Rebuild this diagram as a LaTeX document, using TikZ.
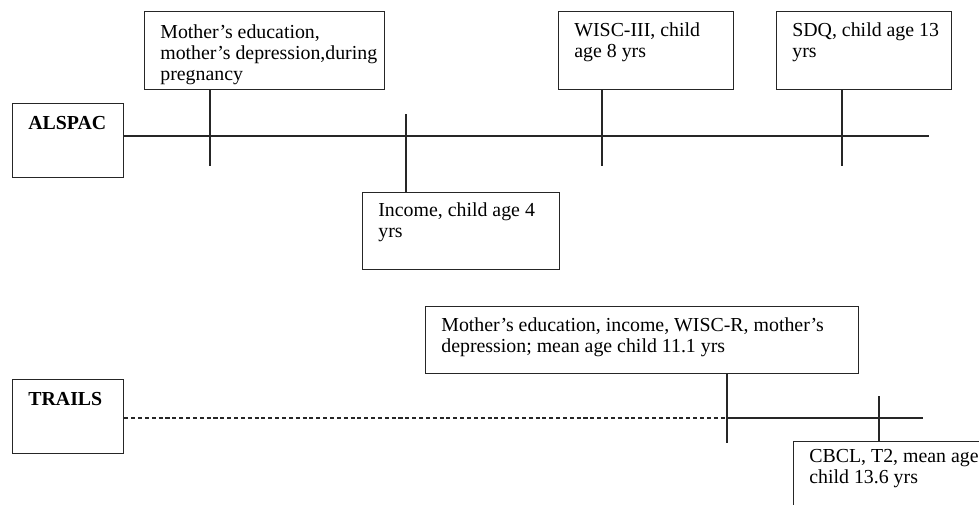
\documentclass[tikz,border=0pt]{standalone}
\usepackage{fontspec}
\setmainfont{Liberation Serif}
\usepackage{tikz}
\usetikzlibrary{positioning}
\tikzstyle{cohort} = [rectangle, draw=black!85, line width=0.8pt, minimum width=2.22cm, minimum height=1.48cm, inner sep=0pt, anchor=north west]
\tikzstyle{tick} = [draw=black!85, line width=0.6pt]

\begin{document}
\begin{tikzpicture}[
    x=0.02cm, y=-0.02cm,
    font=\fontsize{11.3}{12}\selectfont,
    infobox/.style={rectangle, draw=black!85, line width=0.8pt, inner sep=0pt, anchor=north west},
    infotext/.style={inner sep=0pt, align=left, below right=0.26cm and 0.32cm of #1},
    timeline/.style={draw=black!85, line width=0.6pt},
    gap/.style={timeline, dash pattern=on 2.3pt off 1.6pt}
]
\useasboundingbox (0,0) rectangle (979,504);
\clip (0,0) rectangle (979,504);

% Cohorts
\node[cohort] (alspac) at (12,103) {};
\node[infotext=alspac.north west, font=\fontsize{11.3}{12}\bfseries] (alspactext) {ALSPAC};
\node[cohort] (trails) at (12,379) {};
\node[infotext=trails.north west, font=\fontsize{11.3}{12}\bfseries] (trailstext) {TRAILS};

% ALSPAC measures
\node[infobox, minimum width=4.8cm, minimum height=1.56cm] (mom) at (144,11) {};
\node[infotext=mom.north west] (momtext) {Mother's education,\\mother's depression,during\\pregnancy};

\node[infobox, minimum width=3.94cm, minimum height=1.54cm] (income) at (362,192) {};
\node[infotext=income.north west, yshift=0.05cm] (incometext) {Income, child age 4\\yrs};

\node[infobox, minimum width=3.5cm, minimum height=1.56cm] (wisc) at (558,11) {};
\node[infotext=wisc.north west, yshift=0.03cm] (wisctext) {WISC-III, child\\age 8 yrs};

\node[infobox, minimum width=3.5cm, minimum height=1.56cm] (sdq) at (776,11) {};
\node[infotext=sdq.north west, yshift=0.03cm] (sdqtext) {SDQ, child age 13\\yrs};

% TRAILS measures
\node[infobox, minimum width=8.66cm, minimum height=1.34cm] (wave1) at (425,306) {};
\node[infotext=wave1.north west, yshift=0.03cm] (wave1text) {Mother's education, income, WISC-R, mother's\\depression; mean age child 11.1 yrs};

\node[infobox, minimum width=4cm, minimum height=1.56cm] (cbcl) at (793,441) {};
\node[infotext=cbcl.north west, yshift=0.1cm] (cbcltext) {CBCL, T2, mean age\\child 13.6 yrs};

% Timelines
\coordinate (aend) at (929,136);
\draw[timeline] (alspac.east |- aend) -- (aend);
\coordinate (tstart) at (726,418);
\coordinate (tend) at (923,418);
\draw[gap] (trails.east |- tstart) -- (tstart);
\draw[timeline] (tstart) -- (tend);

% Ticks
\coordinate (t1) at (210,166);
\coordinate (t2) at (406,114);
\coordinate (t3) at (602,166);
\coordinate (t4) at (842,166);
\coordinate (t5) at (727,443);
\coordinate (t6) at (879,396);
\draw[tick] (t1 |- mom.south) -- (t1);
\draw[tick] (t2) -- (t2 |- income.north);
\draw[tick] (t3 |- wisc.south) -- (t3);
\draw[tick] (t4 |- sdq.south) -- (t4);
\draw[tick] (t5 |- wave1.south) -- (t5);
\draw[tick] (t6) -- (t6 |- cbcl.north);

\end{tikzpicture}
\end{document}
